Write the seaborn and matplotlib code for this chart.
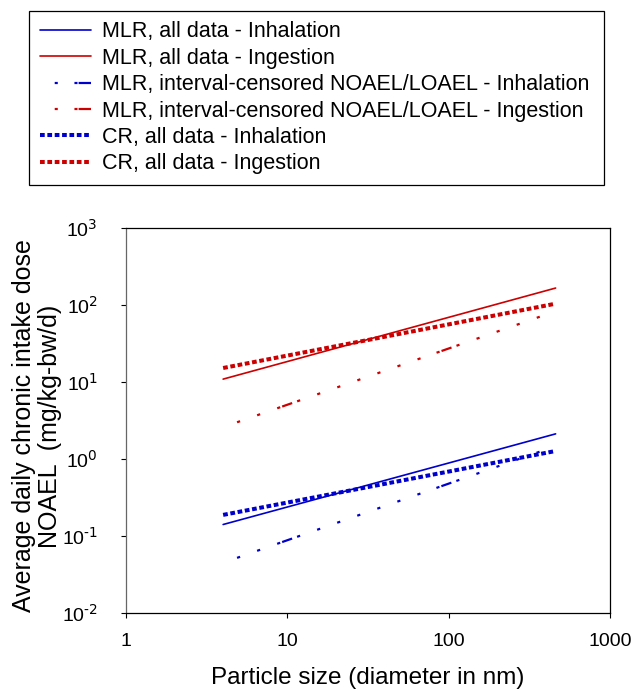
import numpy as np
import pandas as pd
import seaborn as sns
import matplotlib.pyplot as plt
from matplotlib.lines import Line2D

# values (log-log, straight lines between end points)
size_all = [4.0, 460.0]
size_interval = [4.88, 460.0]

mlr_inhalation = [0.141, 2.12]
mlr_ingestion = [10.9, 166.0]
interval_inhalation = [0.052, 1.47]
interval_ingestion = [3.0, 83.0]
cr_inhalation = [0.188, 1.27]
cr_ingestion = [15.2, 104.0]

labels = [
    "MLR, all data - Inhalation",
    "MLR, all data - Ingestion",
    "MLR, interval-censored NOAEL/LOAEL - Inhalation",
    "MLR, interval-censored NOAEL/LOAEL - Ingestion",
    "CR, all data - Inhalation",
    "CR, all data - Ingestion",
]

xticks = [1, 10, 100, 1000]
yticks = [0.01, 0.1, 1, 10, 100, 1000]
ytick_exponents = ["-2", "-1", "0", "1", "2", "3"]

blue = "#0000cc"
red = "#cc0000"

# dot / dash pattern of the interval-censored lines (points)
interval_dashes = (0, (2.3, 13.0, 2.3, 13.0, 2.3, 1.5, 7.6, 3.8,
                       2.3, 13.0, 2.3, 13.0, 2.3, 13.0, 2.3, 13.0, 2.3, 13.0, 2.3, 13.0,
                       2.3, 12.2, 2.3, 1.5, 7.6, 3.8,
                       2.3, 13.0, 2.3, 13.0, 2.3, 13.0, 2.3, 13.0, 2.3, 1.5, 11.4, 40.0))
legend_interval_dashes = (26.3, (2.2, 12.0, 2.2, 0.8, 9.1, 10.6))
cr_dashes = (0, (3.4, 1.9))

sns.set_style("ticks")
plt.rcParams["font.family"] = ["Liberation Sans", "DejaVu Sans"]
plt.rcParams["mathtext.default"] = "regular"
plt.rcParams["lines.scale_dashes"] = False
for key in ["text.color", "axes.labelcolor", "xtick.color", "ytick.color"]:
    plt.rcParams[key] = "black"

df = pd.concat([
    pd.DataFrame({"size": size_all, "dose": mlr_inhalation, "series": labels[0]}),
    pd.DataFrame({"size": size_all, "dose": mlr_ingestion, "series": labels[1]}),
    pd.DataFrame({"size": size_interval, "dose": interval_inhalation, "series": labels[2]}),
    pd.DataFrame({"size": size_interval, "dose": interval_ingestion, "series": labels[3]}),
    pd.DataFrame({"size": size_all, "dose": cr_inhalation, "series": labels[4]}),
    pd.DataFrame({"size": size_all, "dose": cr_ingestion, "series": labels[5]}),
])

styles = {
    labels[0]: dict(color=blue, lw=1.2, ls="-"),
    labels[1]: dict(color=red, lw=1.2, ls="-"),
    labels[2]: dict(color=blue, lw=1.6, ls=interval_dashes),
    labels[3]: dict(color=red, lw=1.6, ls=interval_dashes),
    labels[4]: dict(color=blue, lw=2.9, ls=cr_dashes),
    labels[5]: dict(color=red, lw=2.9, ls=cr_dashes),
}

fig = plt.figure(figsize=(6.37, 6.89), dpi=100)
ax = fig.add_axes([126 / 637, 1 - 613 / 689, 484 / 637, 385 / 689])
ax.set_xscale("log")
ax.set_yscale("log")

handles = []
for name in labels:
    st = styles[name]
    sub = df[df["series"] == name]
    sns.lineplot(data=sub, x="size", y="dose", ax=ax, color=st["color"],
                 linewidth=st["lw"], linestyle=st["ls"], legend=False)
    if name in (labels[2], labels[3]):
        ls = legend_interval_dashes
    else:
        ls = st["ls"]
    handles.append(Line2D([], [], color=st["color"], lw=st["lw"], linestyle=ls))

ax.set_xlim(1, 1000)
ax.set_ylim(0.01, 1000)
ax.set_xticks(xticks)
ax.set_xticklabels([str(t) for t in xticks])
ax.set_yticks(yticks)
# plain hyphen in the exponent, as in the original
ax.set_yticklabels([r"$10^{\text{" + e + "}}$" for e in ytick_exponents])
ax.minorticks_off()
ax.tick_params(axis="both", which="major", direction="out", length=3.3, width=0.8,
               labelsize=14, color="black")
ax.tick_params(axis="x", pad=11)
ax.tick_params(axis="y", pad=17)
for side in ["top", "right", "bottom", "left"]:
    ax.spines[side].set_visible(True)
    ax.spines[side].set_color("black")
    ax.spines[side].set_linewidth(0.9)
ax.spines["left"].set_color("#666666")

ax.set_xlabel("Particle size (diameter in nm)", fontsize=17.5, labelpad=12)
ax.set_ylabel("Average daily chronic intake dose\nNOAEL  (mg/kg-bw/d)", fontsize=18,
              linespacing=1.1)
ax.yaxis.set_label_coords(-0.133, 0.486)

leg = fig.legend(handles, labels, loc="upper left",
                 bbox_to_anchor=(29 / 637, 1 - 10.7 / 689 - 0.3, 575 / 637, 0.3),
                 mode="expand", borderaxespad=0, fontsize=15.5, frameon=True,
                 fancybox=False, edgecolor="black", framealpha=1,
                 handlelength=2.37, handletextpad=0.51, borderpad=0.5,
                 labelspacing=0.25)
leg.get_frame().set_linewidth(0.9)

fig.savefig("out.png", dpi=100)
